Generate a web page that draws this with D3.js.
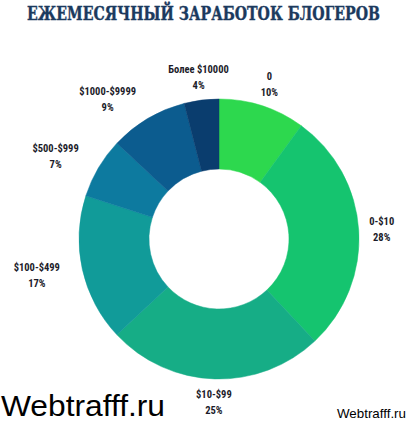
<!DOCTYPE html>
<html>
<head>
<meta charset="utf-8">
<script src="https://cdn.jsdelivr.net/npm/d3@7"></script>
<style>
  body { margin: 0; background: #fff; }
  svg { display: block; }
</style>
</head>
<body>
<svg id="chart" width="412" height="425"></svg>
<script>
// earnings buckets, clockwise from 12 o'clock
var categories = ["0", "0-$10", "$10-$99", "$100-$499", "$500-$999", "$1000-$9999", "Более $10000"];
var shares     = [10, 28, 25, 17, 7, 9, 4];
var colors     = ["#2dd84e", "#15c46f", "#16ad86", "#119b99", "#0d7a9f", "#0c5c8f", "#0a3d6e"];

var svg = d3.select("#chart");
var cx = 219, cy = 239;
var outer = 140, inner = 70, labelR = 163;

// title
svg.append("text")
   .attr("x", 27).attr("y", 20)
   .attr("textLength", 353).attr("lengthAdjust", "spacingAndGlyphs")
   .style("font-family", "'DejaVu Serif', serif")
   .style("font-weight", "bold")
   .style("font-size", "18px")
   .attr("fill", "#1b3a5e")
   .attr("stroke", "#1b3a5e").attr("stroke-width", 0.4)
   .text("ЕЖЕМЕСЯЧНЫЙ ЗАРАБОТОК БЛОГЕРОВ");

var data = categories.map(function(c, i) { return { name: c, value: shares[i], color: colors[i] }; });

var pie = d3.pie().sort(null).value(function(d) { return d.value; });
var arc = d3.arc().innerRadius(inner).outerRadius(outer);

var g = svg.append("g").attr("transform", "translate(" + cx + "," + cy + ")");
var arcs = pie(data);

g.selectAll("path")
  .data(arcs)
  .enter().append("path")
  .attr("d", arc)
  .attr("fill", function(d) { return d.data.color; })
  .attr("stroke", function(d) { return d.data.color; })
  .attr("stroke-width", 0.5);

// labels
var lab = g.selectAll("g.label")
  .data(arcs)
  .enter().append("g")
  .attr("class", "label");

lab.each(function(d) {
    var sel = d3.select(this);
    var a = (d.startAngle + d.endAngle) / 2;
    var t = sel.append("text")
        .attr("text-anchor", "middle")
        .style("font-family", "'Roboto Condensed', 'Liberation Sans Narrow', 'DejaVu Sans Condensed', Roboto, sans-serif")
        .style("font-weight", "bold")
        .style("font-size", "10.5px")
        .attr("fill", "#1c1c2a");
    t.append("tspan").attr("x", 0).attr("y", -4).text(d.data.name);
    t.append("tspan").attr("x", 0).attr("y", 12).text(d.data.value + "%");
    var w = t.node().getBBox().width;
    var x = labelR * Math.sin(a), y = -labelR * Math.cos(a);
    // labels on the left side sit with their right edge on the ring
    if (Math.sin(a) < -0.4) x -= w / 2;
    sel.attr("transform", "translate(" + x + "," + y + ")");
});

// watermarks
svg.append("text")
   .attr("x", 1).attr("y", 416)
   .attr("textLength", 164).attr("lengthAdjust", "spacingAndGlyphs")
   .style("font-family", "'Liberation Sans', Arial, sans-serif")
   .style("font-size", "30px")
   .attr("fill", "#000")
   .text("Webtrafff.ru");

svg.append("text")
   .attr("x", 337).attr("y", 418)
   .attr("textLength", 69).attr("lengthAdjust", "spacingAndGlyphs")
   .style("font-family", "'Liberation Sans', Arial, sans-serif")
   .style("font-size", "13.5px")
   .attr("fill", "#000")
   .text("Webtrafff.ru");
</script>
</body>
</html>
